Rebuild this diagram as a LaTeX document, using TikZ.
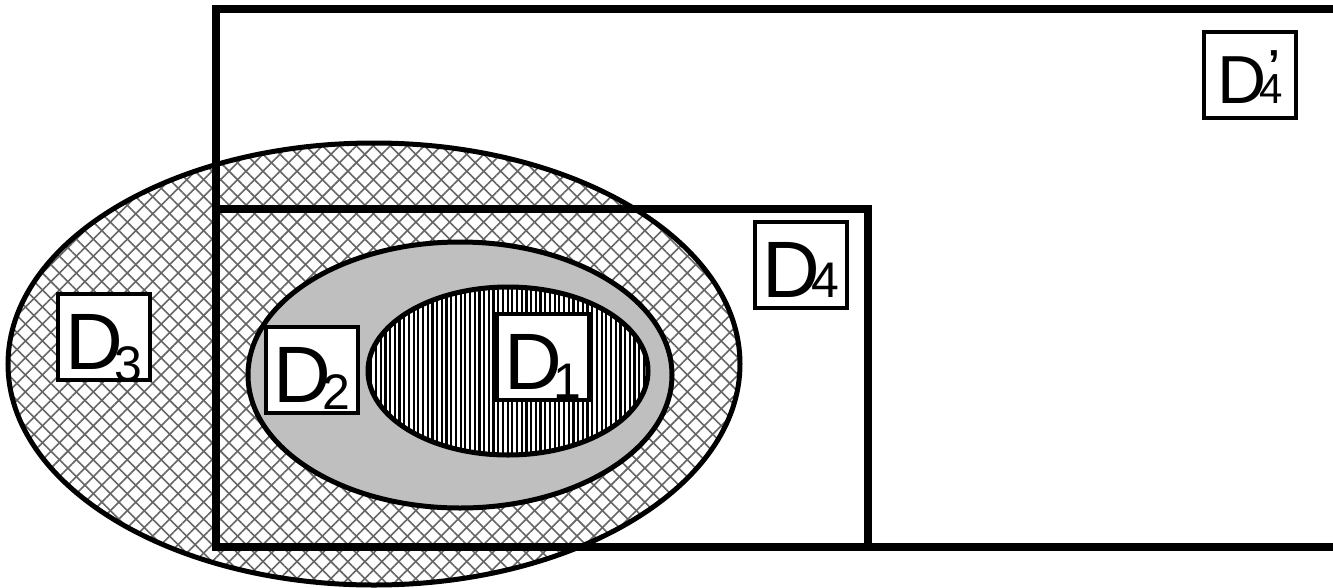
\documentclass[tikz,border=0pt]{standalone}
\usepackage{fontspec}
\setmainfont{Liberation Sans}
\usetikzlibrary{patterns.meta}
\newcommand\DLab[2]{\fontsize{80}{80}\selectfont D\kern-8pt\raisebox{#2}{\fontsize{50}{50}\selectfont #1}}
\newcommand\DLabP{\fontsize{68}{68}\selectfont D\kern-7pt{\fontsize{42}{42}\selectfont\makebox[0pt][l]{\kern9pt\raisebox{24pt}{\bfseries\symbol{"27}}}4}}
\tikzset{
  region/.style={line width=7.5pt},
  oval/.style={line width=5pt},
  lbl/.style={draw, line width=4.5pt, fill=white, minimum width=92pt, minimum height=86pt,
    text height=65pt, text depth=0pt, inner sep=0pt},
  hatchA/.style={pattern={Lines[angle=45,distance=12pt,line width=1.6pt]}, pattern color=black!60},
  hatchB/.style={pattern={Lines[angle=-45,distance=12pt,line width=1.6pt]}, pattern color=black!60},
  vstripes/.style={pattern={Lines[angle=90,distance=4.7pt,line width=2.2pt]}, pattern color=black}
}
\begin{document}
\begin{tikzpicture}[x=1pt,y=-1pt]
\useasboundingbox (0,0) rectangle (1333,587);
\clip (0,0) rectangle (1333,587);
\fill[white] (0,0) rectangle (1333,587);
% D3 ellipse
\fill[white] (374,364) ellipse [x radius=366pt, y radius=221pt];
\path[hatchA] (374,364) ellipse [x radius=366pt, y radius=221pt];
\path[hatchB] (374,364) ellipse [x radius=366pt, y radius=221pt];
\draw[oval] (374,364) ellipse [x radius=366pt, y radius=221pt];
% rectangles
\draw[region] (216,9) rectangle (1350,547);
\draw[region] (216,209) rectangle (868,547);
% D2 ellipse
\draw[oval, fill=black!25] (460,375) ellipse [x radius=212pt, y radius=133pt];
% D1 ellipse
\fill[white] (508,371) ellipse [x radius=140pt, y radius=84pt];
\path[vstripes] (508,371) ellipse [x radius=140pt, y radius=84pt];
\draw[oval] (508,371) ellipse [x radius=140pt, y radius=84pt];
% labels
\node[lbl] (l1) at (543,357) {\DLab{1}{-9pt}};
\node[lbl] (l2) at (312,370) {\DLab{2}{-7pt}};
\node[lbl] (l3) at (104,337) {\DLab{3}{-12pt}};
\node[lbl] (l4) at (801,265) {\DLab{4}{0pt}};
\node[lbl, text height=56pt] (l4p) at (1250,75) {\DLabP};
\end{tikzpicture}
\end{document}
